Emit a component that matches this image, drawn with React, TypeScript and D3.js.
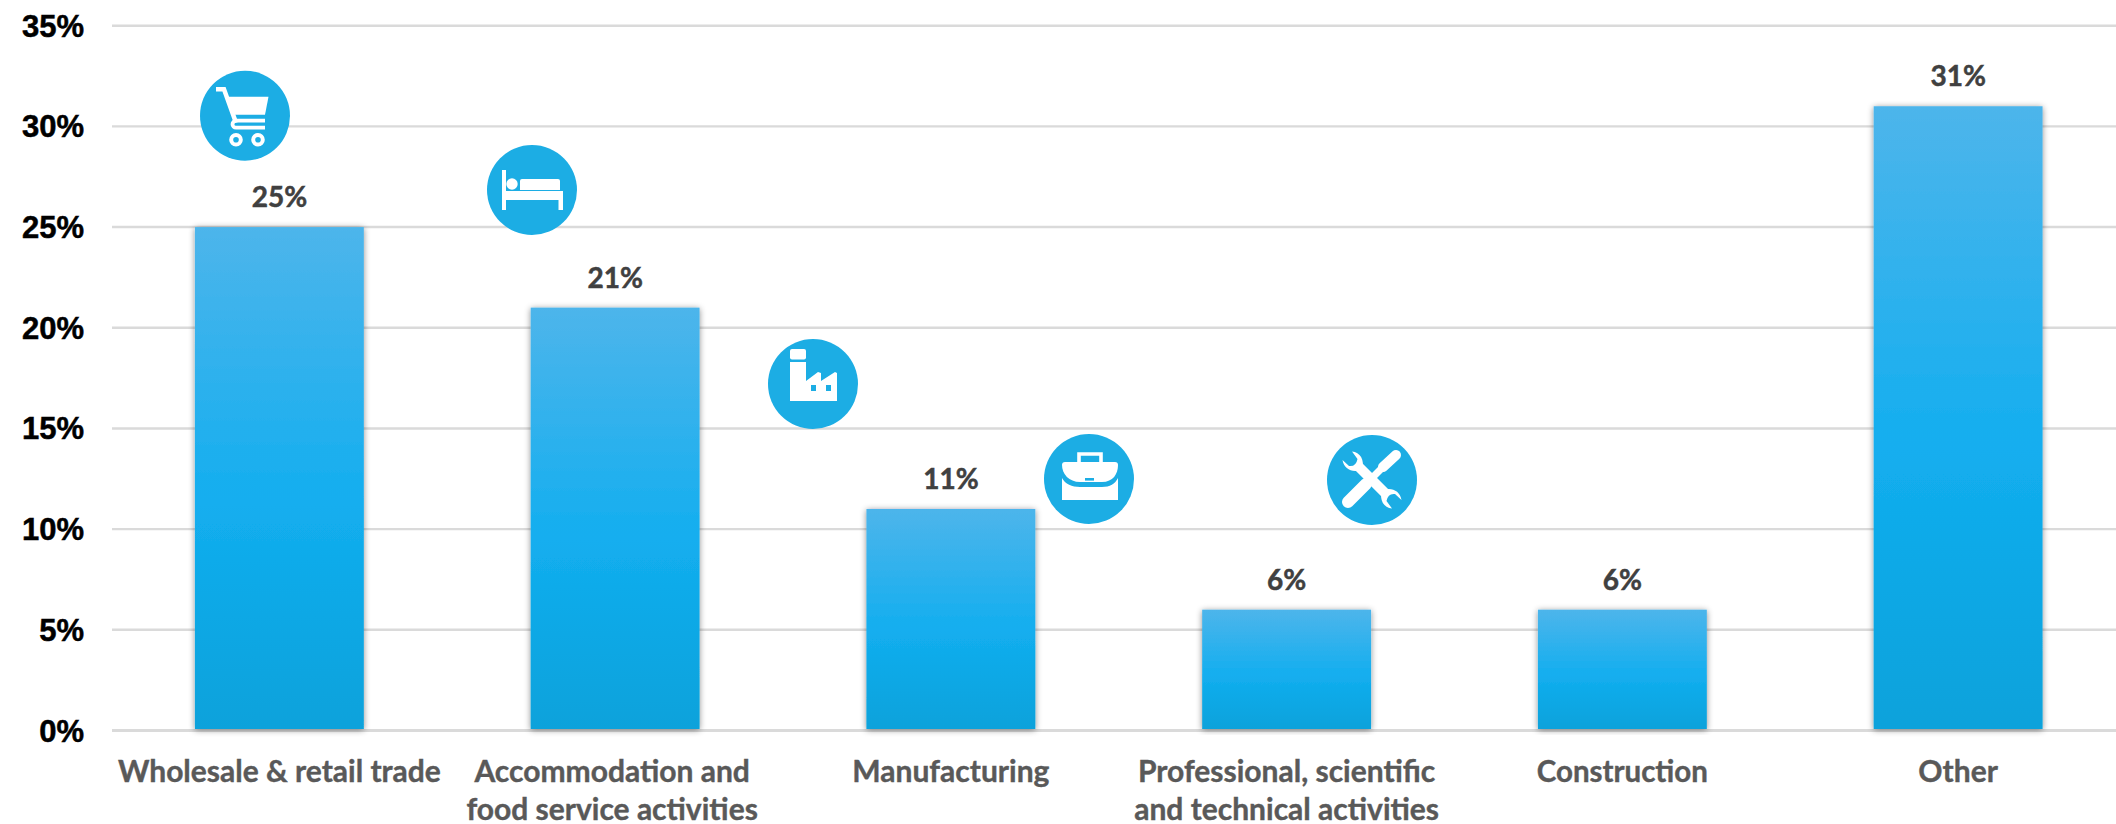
import React from "react";
import * as d3 from "d3";

// Share of businesses by sector, in percent
const categories = [
  "Wholesale & retail trade",
  "Accommodation and food service activities",
  "Manufacturing",
  "Professional, scientific and technical activities",
  "Construction",
  "Other",
];
const categoryLines = [
  ["Wholesale & retail trade"],
  ["Accommodation and", "food service activities"],
  ["Manufacturing"],
  ["Professional, scientific", "and technical activities"],
  ["Construction"],
  ["Other"],
];
const shares = [25, 21, 11, 6, 6, 31];
const yTicks = [0, 5, 10, 15, 20, 25, 30, 35];

const WIDTH = 2116;
const HEIGHT = 824;
const CIRCLE = "#1CADE4";
const LABEL_FONT = "Lato, Carlito, sans-serif";

const x = d3
  .scaleBand<string>()
  .domain(categories)
  .range([111.5, 2126])
  .paddingInner(0.497)
  .paddingOuter(0.2485);
const y = d3.scaleLinear().domain([0, 35]).range([730.5, 25.7]);

// Glyphs are drawn around (0,0), the centre of their badge
const Cart = () => (
  <g>
    <path d="M-29,-26.5 H-21 L-9,7" fill="none" stroke="#fff" strokeWidth={4.5} />
    <path d="M-17,-19 H23.5 L20,-1 H-11 Z" fill="#fff" />
    <path d="M20,5 H-9 a 3.5 3.5 0 0 0 0 7 H20" fill="none" stroke="#fff" strokeWidth={3.8} />
    <circle cx={-9} cy={24} r={4.8} fill="none" stroke="#fff" strokeWidth={4} />
    <circle cx={13} cy={24} r={4.8} fill="none" stroke="#fff" strokeWidth={4} />
  </g>
);

const Bed = () => (
  <g fill="#fff">
    <rect x={-30} y={-20} width={4} height={40} />
    <circle cx={-20} cy={-6} r={5.7} />
    <path d="M-12,0 V-9 a2,2 0 0 1 2,-2 H26 a2,2 0 0 1 2,2 V0 Z" />
    <rect x={-30} y={1} width={61} height={9} />
    <rect x={26.5} y={1} width={4.5} height={19} />
  </g>
);

const Factory = () => (
  <g>
    <rect x={-23} y={-35} width={16} height={10.5} rx={2} fill="#fff" />
    <path d="M-23,-22 H-7 V-3 L5,-12 L8,-11 V-3 L22,-12 L24,-11 V17 H-23 Z" fill="#fff" />
    <rect x={-2} y={1} width={5} height={6} fill={CIRCLE} />
    <rect x={13} y={1} width={5} height={6} fill={CIRCLE} />
  </g>
);

const Briefcase = () => (
  <g>
    <path d="M-10,-17 V-25 H12 V-17" fill="none" stroke="#fff" strokeWidth={3.6} />
    <path
      d="M-24,-17 H26 a3,3 0 0 1 3,3 C29,-5 24,3 13,3 H-9 C-20,3 -27,-5 -27,-14 a3,3 0 0 1 3,-3 Z"
      fill="#fff"
    />
    <rect x={-4} y={-1} width={9} height={2.6} fill={CIRCLE} />
    <path d="M-27,-1 C-24,5 -17,8 -9,8 H13 C21,8 26,5 29,-1 V21 H-27 Z" fill="#fff" />
  </g>
);

const Tools = () => (
  <g>
    <path d="M-14,-14 L15,15" stroke="#fff" strokeWidth={10} />
    <path
      d="M-20,-28.5 C-12,-28 -7,-20 -10,-11 L-11,-10 C-20,-7 -28,-11 -29.5,-20 L-23,-14 Q-16,-13 -14.5,-21 Z"
      fill="#fff"
    />
    <path
      d="M20,28.5 C12,28 7,20 10,11 L11,10 C20,7 28,11 29.5,20 L23,14 Q16,13 14.5,21 Z"
      fill="#fff"
    />
    <path d="M-24,22 L-6,4" stroke="#fff" strokeWidth={12} strokeLinecap="round" />
    <path d="M-6,4 L12,-14" stroke="#fff" strokeWidth={7} />
    <path d="M11,-13 L24,-25" stroke="#fff" strokeWidth={10} strokeLinecap="round" />
  </g>
);

// Badges float over the plot, each with its own glyph
const badges = [
  { cx: 245, cy: 115.7, Glyph: Cart },
  { cx: 532, cy: 190, Glyph: Bed },
  { cx: 813, cy: 384, Glyph: Factory },
  { cx: 1089, cy: 479, Glyph: Briefcase },
  { cx: 1372, cy: 480, Glyph: Tools },
];

export default function App() {
  return (
    <svg
      width={WIDTH}
      height={HEIGHT}
      viewBox={`0 0 ${WIDTH} ${HEIGHT}`}
      style={{ position: "absolute", left: 0, top: 0, display: "block", background: "#fff" }}
    >
      <defs>
        <linearGradient id="barFill" x1="0" y1="0" x2="0" y2="1">
          <stop offset="0" stopColor="#4DB5EB" />
          <stop offset="0.55" stopColor="#13AEEF" />
          <stop offset="1" stopColor="#08A2DB" />
        </linearGradient>
        <filter id="barShadow" x="-10%" y="-5%" width="120%" height="110%">
          <feDropShadow dx={0} dy={1} stdDeviation={3} floodColor="#000" floodOpacity={0.45} />
        </filter>
      </defs>

      {yTicks.map((t) => (
        <g key={t}>
          <line
            x1={112}
            x2={WIDTH}
            y1={y(t)}
            y2={y(t)}
            stroke="#DADADA"
            strokeWidth={t === 0 ? 3 : 2.4}
          />
          <text
            x={84}
            y={y(t) + 11}
            textAnchor="end"
            fontFamily="'Liberation Sans', Arial, sans-serif"
            fontWeight={700}
            fontSize={31}
            fill="#000"
            stroke="#000"
            strokeWidth={0.5}
          >
            {t}%
          </text>
        </g>
      ))}

      {categories.map((c, i) => {
        const bx = x(c)!;
        const top = y(shares[i]);
        const centre = bx + x.bandwidth() / 2;
        return (
          <g key={c}>
            <rect
              x={bx}
              y={top}
              width={x.bandwidth()}
              height={y(0) - top - 1.5}
              fill="url(#barFill)"
              filter="url(#barShadow)"
            />
            <text
              x={centre}
              y={top - 20}
              textAnchor="middle"
              fontFamily={LABEL_FONT}
              fontWeight={700}
              fontSize={28}
              fill="#404040"
              stroke="#404040"
              strokeWidth={0.5}
            >
              {shares[i]}%
            </text>
            {categoryLines[i].map((line, k) => (
              <text
                key={line}
                x={centre - (i === 1 ? 3 : 0)}
                y={781.5 + k * 38}
                textAnchor="middle"
                fontFamily={LABEL_FONT}
                fontWeight={700}
                fontSize={i === 4 ? 29.5 : 30}
                fill="#595959"
                stroke="#595959"
                strokeWidth={0.4}
              >
                {line}
              </text>
            ))}
          </g>
        );
      })}

      {badges.map(({ cx, cy, Glyph }) => (
        <g key={cx} transform={`translate(${cx},${cy})`}>
          <circle r={45} fill={CIRCLE} />
          <Glyph />
        </g>
      ))}
    </svg>
  );
}
